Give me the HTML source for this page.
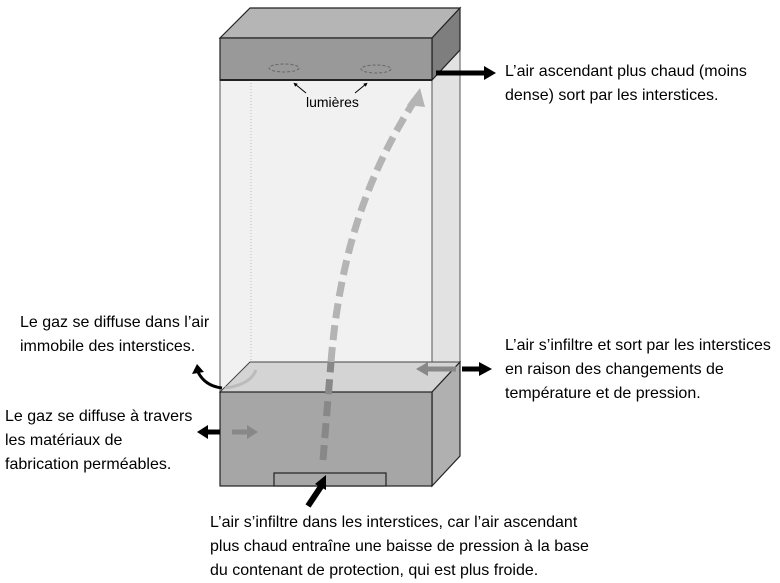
<!DOCTYPE html>
<html><head><meta charset="utf-8"><style>
body{margin:0;background:#fff;width:780px;height:582px;overflow:hidden;position:relative;font-family:"Liberation Sans",sans-serif;}
.t{position:absolute;font-size:16px;line-height:24px;color:#000;white-space:nowrap;}
</style></head><body>
<svg width="780" height="582" style="position:absolute;left:0;top:0">
<defs>
<marker id="ab" markerWidth="4" markerHeight="4" refX="2" refY="2" orient="auto" markerUnits="strokeWidth"><path d="M0,0 L4,2 L0,4z" fill="#000"/></marker>
</defs>
<polygon points="220,80 432,80 432,392 220,392" fill="#f1f1f1" stroke="#555" stroke-width="1"/>
<polygon points="432,80 460,50 460,362 432,392" fill="#e2e2e2" stroke="#555" stroke-width="1"/>
<line x1="251" y1="80" x2="251" y2="362" stroke="#bbb" stroke-dasharray="1,2"/>
<polygon points="220,38 250,8 460,8 432,38" fill="#b5b5b5" stroke="#222" stroke-width="1.2"/>
<polygon points="432,38 460,8 460,50 432,80" fill="#7e7e7e" stroke="#222" stroke-width="1.2"/>
<rect x="220" y="38" width="212" height="42" fill="#999" stroke="#222" stroke-width="1.2"/>
<line x1="220" y1="80" x2="432" y2="80" stroke="#222" stroke-width="2"/>
<ellipse cx="284" cy="68" rx="15" ry="4" fill="none" stroke="#666" stroke-dasharray="3,2"/>
<ellipse cx="376" cy="69" rx="15" ry="4" fill="none" stroke="#666" stroke-dasharray="3,2"/>
<line x1="306" y1="93" x2="295" y2="84" stroke="#000" stroke-width="1" marker-end="url(#ab)"/>
<line x1="355" y1="93" x2="366" y2="84" stroke="#000" stroke-width="1" marker-end="url(#ab)"/>
<polygon points="220,392 250,362 460,362 432,392" fill="#d4d4d4" stroke="#444" stroke-width="1"/>
<polygon points="432,392 460,362 460,456 432,486" fill="#b0b0b0" stroke="#222" stroke-width="1.2"/>
<rect x="220" y="392" width="212" height="94" fill="#a6a6a6" stroke="#222" stroke-width="1.2"/>
<rect x="274" y="473" width="112" height="13" fill="#a6a6a6" stroke="#222" stroke-width="1.2"/>
<path d="M331,362 C340,250 370,170 415,100" fill="none" stroke="#b4b4b4" stroke-width="7" stroke-dasharray="15,7"/>
<polygon points="420,88 407,105 425,107" fill="#b4b4b4"/>
<path d="M323,460 L331,362" fill="none" stroke="#888" stroke-width="7" stroke-dasharray="15,7"/>
<path d="M308,506 L322,485" stroke="#000" stroke-width="6" fill="none"/>
<polygon points="326,475 315,484 326,490" fill="#000"/>
<line x1="436" y1="73" x2="486" y2="73" stroke="#000" stroke-width="5"/>
<polygon points="484,66 496,73 484,80" fill="#000"/>
<line x1="462" y1="369" x2="480" y2="369" stroke="#000" stroke-width="5"/>
<polygon points="479,362 492,369 479,376" fill="#000"/>
<line x1="425" y1="369" x2="456" y2="369" stroke="#888" stroke-width="5"/>
<polygon points="428,362 416,369 428,376" fill="#888"/>
<line x1="206" y1="432" x2="220" y2="432" stroke="#000" stroke-width="5"/>
<polygon points="208,425 197,432 208,439" fill="#000"/>
<line x1="232" y1="432" x2="248" y2="432" stroke="#888" stroke-width="5"/>
<polygon points="247,425 258,432 247,439" fill="#888"/>
<path d="M222,388 Q205,386 198,372" fill="none" stroke="#000" stroke-width="3"/>
<polygon points="192,374 197,364 204,372" fill="#000"/>
<path d="M225,388 Q250,385 256,370" fill="none" stroke="#bbb" stroke-width="3"/>
</svg>
<div class="t" style="left:505px;top:60px">L’air ascendant plus chaud (moins<br>dense) sort par les interstices.</div>
<div class="t" style="left:306px;top:90px;font-size:14px">lumières</div>
<div class="t" style="left:20px;top:311px">Le gaz se diffuse dans l’air<br>immobile des interstices.</div>
<div class="t" style="left:505px;top:334px">L’air s’infiltre et sort par les interstices<br>en raison des changements de<br>température et de pression.</div>
<div class="t" style="left:5px;top:405px">Le gaz se diffuse à travers<br>les matériaux de<br>fabrication perméables.</div>
<div class="t" style="left:210px;top:511px">L’air s’infiltre dans les interstices, car l’air ascendant<br>plus chaud entraîne une baisse de pression à la base<br>du contenant de protection, qui est plus froide.</div>
</body></html>
